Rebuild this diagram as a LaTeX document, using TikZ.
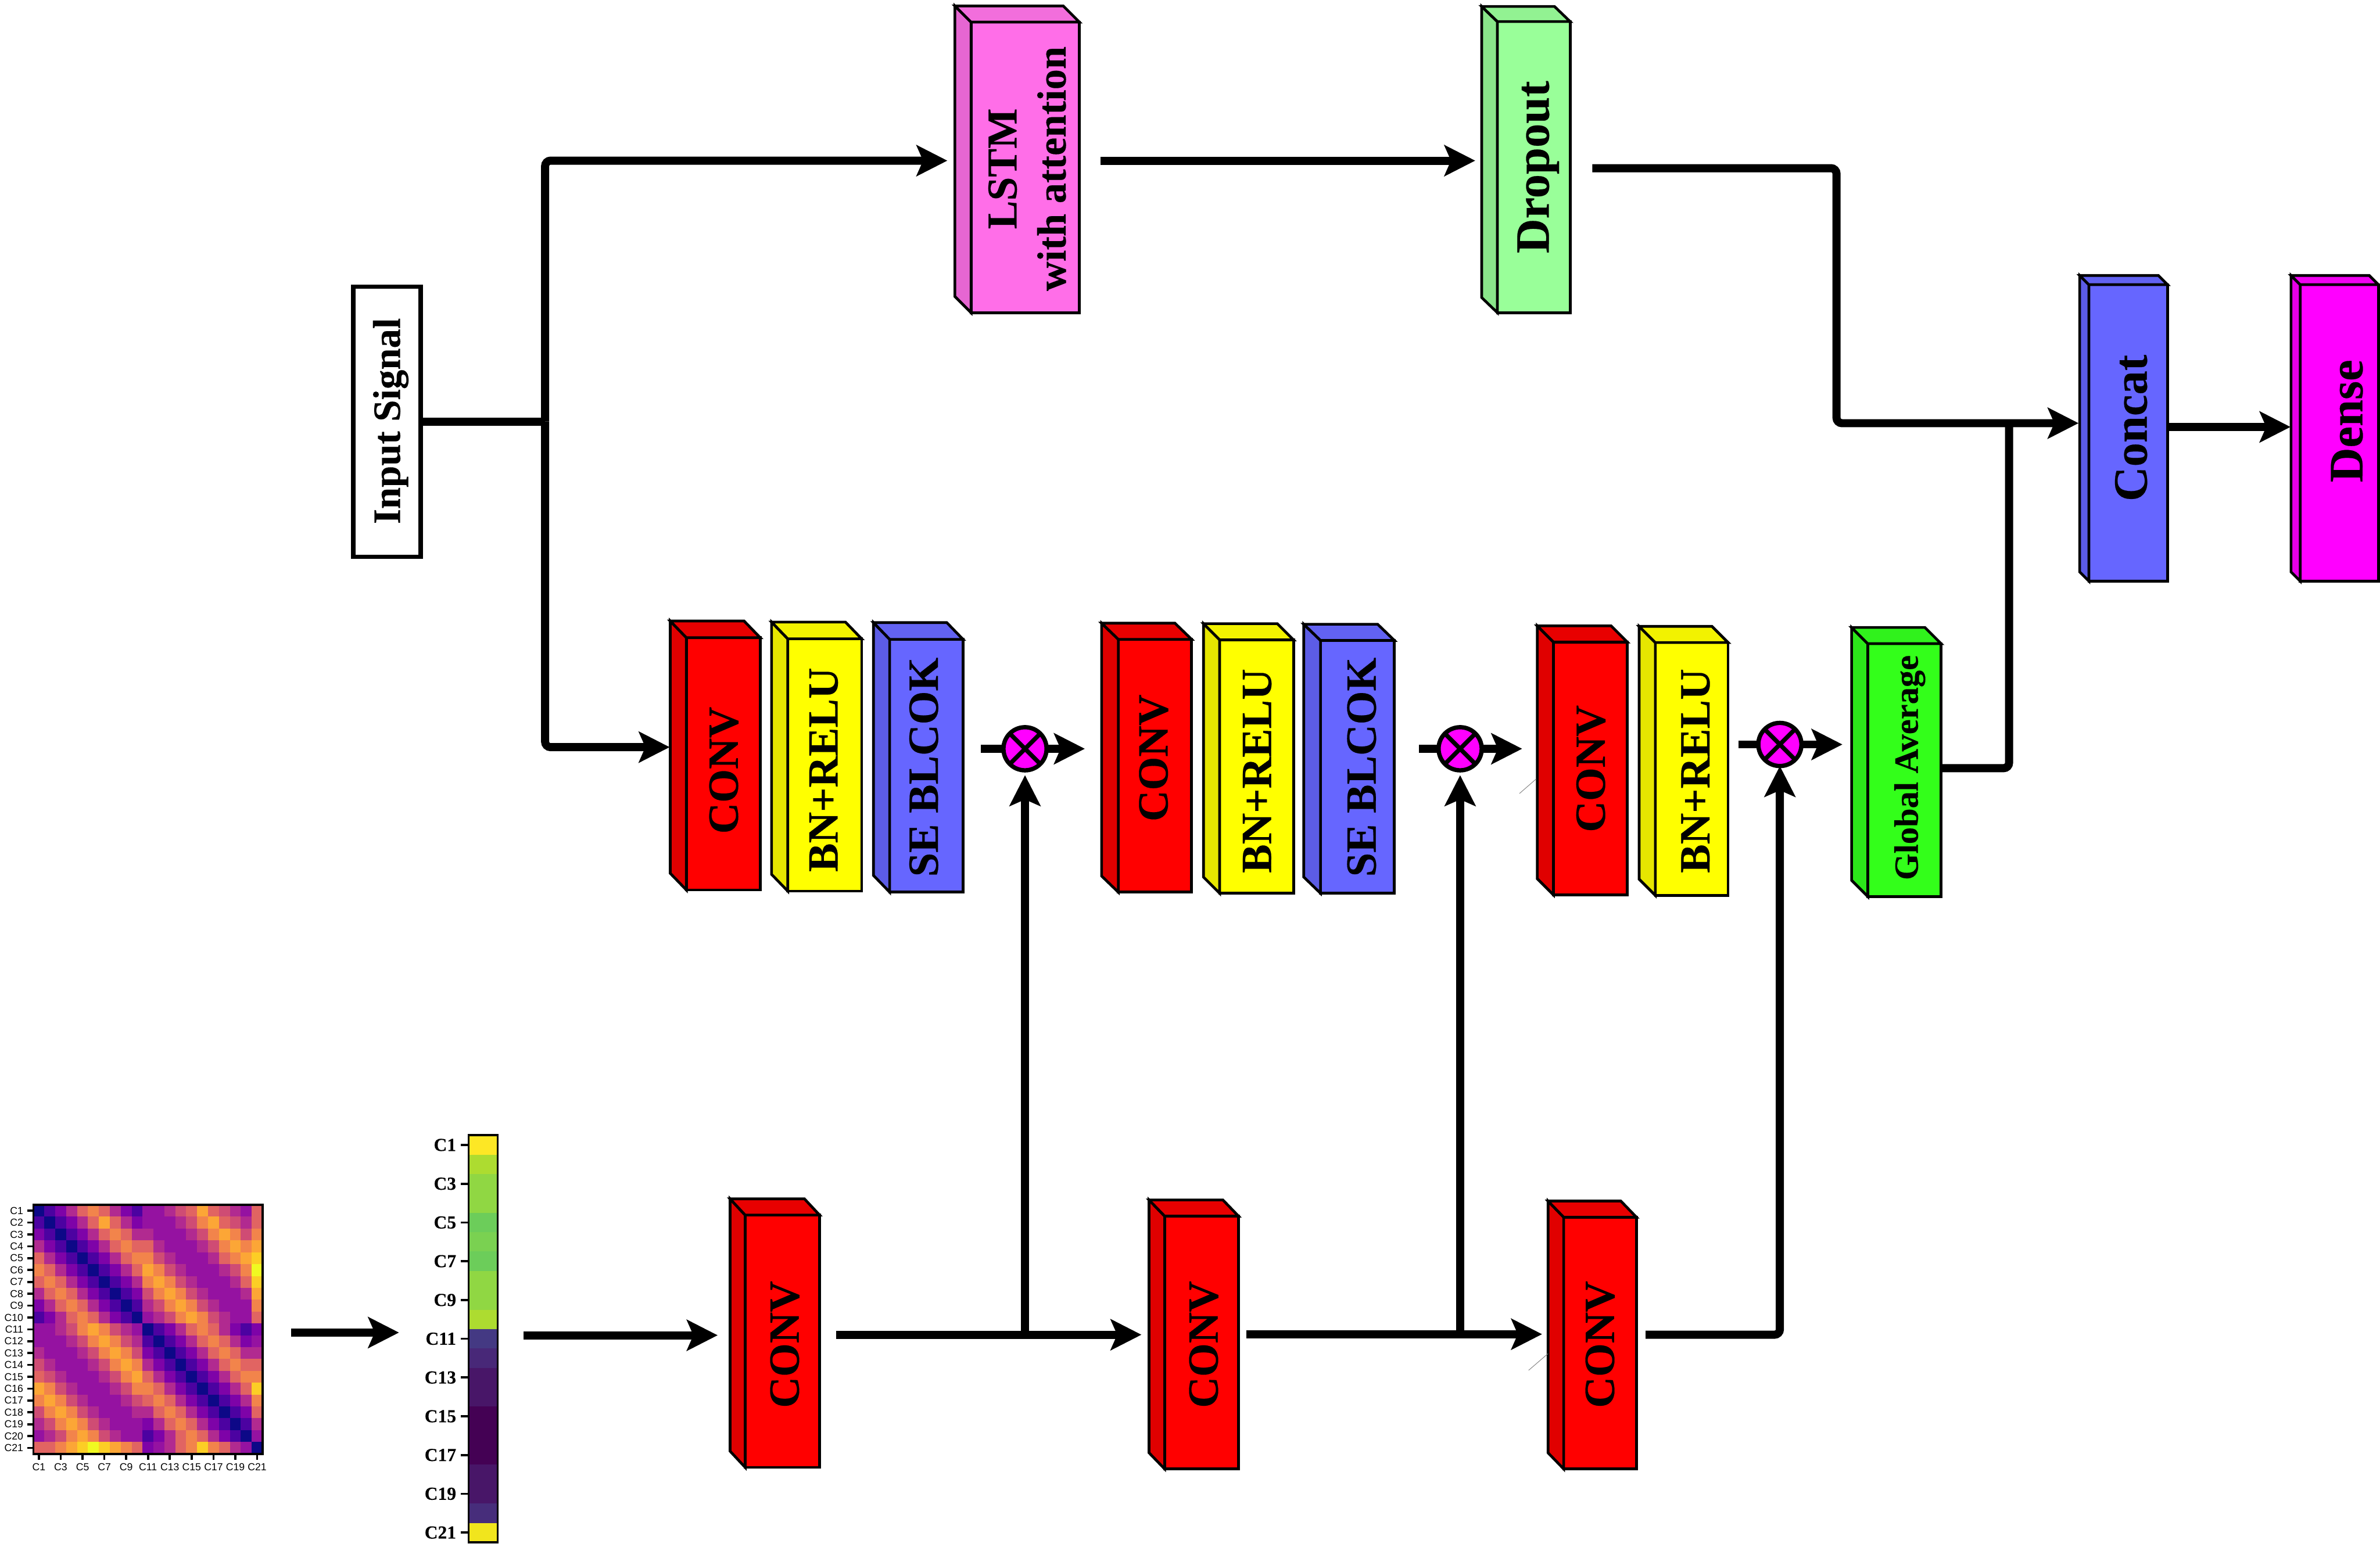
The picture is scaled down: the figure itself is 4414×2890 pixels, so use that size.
\documentclass[tikz,border=0pt]{standalone}
\usepackage{graphicx}
\usepackage{fontspec}
\setmainfont{Liberation Serif}[BoldFeatures={FakeBold=0.3}]
\newfontfamily\hsans{Liberation Sans}
\usetikzlibrary{arrows.meta,calc}
\definecolor{rd}{HTML}{FF0000}\definecolor{rdside}{HTML}{E00000}\definecolor{rdtop}{HTML}{E80000}
\definecolor{yl}{HTML}{FFFF00}\definecolor{ylside}{HTML}{E6E600}\definecolor{yltop}{HTML}{F2F200}
\definecolor{bl}{HTML}{6666FF}\definecolor{blside}{HTML}{5C5CE6}\definecolor{bltop}{HTML}{6262F2}
\definecolor{pk}{HTML}{FF6EE8}\definecolor{pkside}{HTML}{E666D2}\definecolor{pktop}{HTML}{F26EDC}
\definecolor{gn}{HTML}{99FF99}\definecolor{gnside}{HTML}{8AE68A}\definecolor{gntop}{HTML}{92F292}
\definecolor{mg}{HTML}{FF00FF}\definecolor{mgside}{HTML}{E600E6}\definecolor{mgtop}{HTML}{F200F2}
\definecolor{lm}{HTML}{33FF1A}\definecolor{lmside}{HTML}{2CE61A}\definecolor{lmtop}{HTML}{30F21C}
\definecolor{pl0}{HTML}{0D0887}\definecolor{pl1}{HTML}{4C02A1}\definecolor{pl2}{HTML}{7E03A8}
\definecolor{pl3}{HTML}{9512A1}\definecolor{pl4}{HTML}{B12A90}\definecolor{pl5}{HTML}{CF4C74}
\definecolor{pl6}{HTML}{E16462}\definecolor{pl7}{HTML}{F2844B}\definecolor{pl8}{HTML}{FCA636}
\definecolor{pl9}{HTML}{FCCE25}\definecolor{pl10}{HTML}{F0F921}
\definecolor{v0}{HTML}{FDE725}\definecolor{v1}{HTML}{ADDC30}\definecolor{v2}{HTML}{90D743}
\definecolor{v3}{HTML}{6CCD5A}\definecolor{v4}{HTML}{7AD151}\definecolor{v5}{HTML}{443983}
\definecolor{v6}{HTML}{482878}\definecolor{v7}{HTML}{481668}\definecolor{v8}{HTML}{440154}
\definecolor{v9}{HTML}{472D7B}\definecolor{v10}{HTML}{F1E51D}
\tikzset{
 boxline/.style={draw=black,line width=0.5pt,line join=miter},
 arr/.style={line width=1.5pt,rounded corners=1pt,-{Stealth[length=5.7pt,width=5.7pt,inset=1.2pt]}},
 plainline/.style={line width=1.5pt,rounded corners=1pt},
 mergenode/.style={circle,draw=black,line width=0.8pt,fill=mg,minimum size=8pt,inner sep=0pt,outer sep=0pt},
 cross/.style={line width=0.8pt},
 vlabel/.style={rotate=90,anchor=base,inner sep=0pt,outer sep=0pt,font=\bfseries},
 hmtick/.style={line width=0.4pt},
 hmlab/.style={inner sep=0pt,font=\hsans\fontsize{1.9}{2.2}\selectfont},
 striplab/.style={inner sep=0pt,anchor=east,font=\bfseries\fontsize{3.4}{3.8}\selectfont},
 stray/.style={line width=0.1pt,draw=gray}
}
% name, xb, xf, xr, yt, yf, yb, colour
\newcommand{\threed}[8]{%
 \node[boxline,fill=#8,inner sep=0pt,outer sep=0pt,minimum width={(#4-#3)*0.1pt},minimum height={(#7-#6)*0.1pt}] (#1) at ({(#3+#4)/2},{(#6+#7)/2}) {};
 \draw[boxline,fill=#8side] (#1.north west) -- ++({#2-#3},{#5-#6}) -- ++(0,{#7-#6}) -- (#1.south west) -- cycle;
 \draw[boxline,fill=#8top] (#1.north west) -- ++({#2-#3},{#5-#6}) -- ++({#4-#3},0) -- (#1.north east) -- cycle;
}
% name, xc, yc, size(pt), text
\newcommand{\vlab}[5]{\node[vlabel] (#1) at ({#2+3.3*#4},{#3}) {\fontsize{#4}{#4}\selectfont #5};}
\begin{document}
\begin{tikzpicture}[x=0.1pt,y=-0.1pt]
\useasboundingbox (0,0) rectangle (4414,2890);
% boxes
\threed{lstm}{1771}{1801}{2002}{11}{41}{580}{pk}
\threed{drop}{2748}{2777}{2912}{12}{40}{580}{gn}
\threed{concat}{3857}{3874}{4020}{511}{528}{1078}{bl}
\threed{dense}{4249}{4266}{4411}{511}{528}{1078}{mg}
\threed{conva}{1243}{1273}{1410}{1152}{1183}{1651}{rd}
\threed{bna}{1431}{1461}{1598}{1154}{1185}{1653}{yl}
\threed{sea}{1620}{1650}{1786}{1155}{1186}{1655}{bl}
\threed{convb}{2043}{2074}{2210}{1156}{1186}{1655}{rd}
\threed{bnb}{2232}{2262}{2399}{1157}{1187}{1657}{yl}
\threed{seb}{2418}{2449}{2586}{1158}{1188}{1657}{bl}
\threed{convc}{2851}{2881}{3018}{1161}{1191}{1660}{rd}
\threed{bnc}{3040}{3070}{3205}{1162}{1192}{1661}{yl}
\threed{glob}{3434}{3464}{3600}{1164}{1194}{1663}{lm}
\threed{convd}{1354}{1382}{1520}{2224}{2254}{2722}{rd}
\threed{conve}{2131}{2160}{2297}{2226}{2256}{2725}{rd}
\threed{convf}{2871}{2900}{3035}{2228}{2258}{2725}{rd}
% input
\node[boxline,fill=white,line width=0.8pt,inner sep=0pt,outer sep=0pt,minimum width=12.5pt,minimum height=50.1pt] (input) at (717.5,782.5) {};
% labels
\vlab{tinput}{718}{781}{7.2}{Input Signal}
\node[rotate=90,anchor=center,inner sep=0pt,align=center,font=\bfseries\fontsize{7.9}{9.1}\selectfont] (tlstm) at (1905,313) {LSTM\\[0pt]{\fontsize{7.6}{9.1}\selectfont with attention}};
\vlab{tdrop}{2843}{310}{8.9}{Dropout}
\vlab{tconcat}{3952}{794}{8.9}{Concat}
\vlab{tdense}{4352}{781}{8.9}{Dense}
\vlab{tca}{1342}{1429}{8}{CONV}
\vlab{tba}{1527}{1428}{8}{BN+RELU}
\vlab{tsa}{1713}{1423}{8}{SE BLCOK}
\vlab{tcb}{2139}{1406}{8}{CONV}
\vlab{tbb}{2331}{1430}{8}{BN+RELU}
\vlab{tsb}{2525}{1423}{8}{SE BLCOK}
\vlab{tcc}{2950}{1426}{8}{CONV}
\vlab{tbc}{3144}{1430}{8}{BN+RELU}
\vlab{tgl}{3536}{1424}{6.3}{Global Average}
\vlab{tcd}{1455}{2494}{8}{CONV}
\vlab{tce}{2232}{2494}{8}{CONV}
\vlab{tcf}{2967}{2494}{8}{CONV}
% merge nodes
\node[mergenode] (ma) at (1901,1389) {};
\node[mergenode] (mb) at (2708,1389) {};
\node[mergenode] (mc) at (3301,1381) {};
\foreach \m in {ma,mb,mc}{
 \draw[cross] (\m.north west) -- (\m.south east);
 \draw[cross] (\m.north east) -- (\m.south west);
}
% heatmap
\foreach \row [count=\r from 0] in {
{0,1,2,4,6,7,6,4,2,1,3,3,4,5,6,8,6,5,4,3,6},
{1,0,1,2,4,6,8,6,4,2,3,3,3,4,5,7,8,6,5,4,6},
{2,1,0,1,2,4,6,7,6,4,4,3,3,3,4,5,7,8,7,5,7},
{4,2,1,0,1,2,4,6,7,6,6,4,3,3,3,4,5,7,8,7,8},
{6,4,2,1,0,1,2,4,6,7,7,5,4,3,3,3,4,6,7,8,9},
{7,6,4,2,1,0,1,2,4,6,8,7,5,4,3,3,3,4,5,7,10},
{6,7,6,4,2,1,0,1,2,4,7,8,7,5,4,3,3,3,4,6,9},
{4,6,7,6,4,2,1,0,1,2,5,7,8,7,5,4,3,3,3,4,8},
{2,4,6,7,6,4,2,1,0,1,4,5,7,8,7,5,4,3,3,3,7},
{1,2,4,6,7,6,4,2,1,0,3,4,5,7,8,7,5,4,3,3,6},
{3,3,4,5,7,8,7,5,4,3,0,1,2,4,6,7,6,4,2,1,2},
{3,3,3,4,5,7,8,7,5,4,1,0,1,2,4,6,7,6,4,2,3},
{4,3,3,3,4,5,7,8,7,5,2,1,0,1,2,4,6,7,6,4,4},
{5,4,3,3,3,4,5,7,8,7,4,2,1,0,1,2,4,6,7,6,6},
{6,5,4,3,3,3,4,5,7,8,6,4,2,1,0,1,2,4,6,7,7},
{8,7,5,4,3,3,3,4,5,7,7,6,4,2,1,0,1,2,4,6,9},
{7,8,7,5,4,3,3,3,4,5,6,7,6,4,2,1,0,1,2,4,7},
{5,7,8,7,5,4,3,3,3,4,4,6,7,6,4,2,1,0,1,2,6},
{4,5,7,8,7,5,4,3,3,3,2,4,6,7,6,4,2,1,0,1,4},
{3,4,5,7,8,7,5,4,3,3,1,2,4,6,7,6,4,2,1,0,3},
{6,6,7,8,9,10,9,8,7,6,2,3,4,6,7,9,7,6,4,3,0}}{
 \foreach \v [count=\c from 0] in \row {
  \fill[pl\v] ({62+\c*20.24},{2235+\r*22}) rectangle ++(20.8,22.6);
 }
}
\draw[line width=0.4pt] (62,2235) rectangle (487,2697);
\foreach \i [evaluate=\i as \yy using {2235+(\i-0.5)*22}] in {1,...,21}{
 \draw[hmtick] (51,\yy) -- (62,\yy);
 \node[hmlab,anchor=east] (hy\i) at (45,\yy) {C\i};
}
\foreach \i [evaluate=\i as \xx using {62+(\i-0.5)*20.24}] in {1,3,...,21}{
 \draw[hmtick] (\xx,2697) -- (\xx,2708);
 \node[hmlab] (hx\i) at (\xx,2721) {C\i};
}
% strip
\foreach \cc [count=\r from 0] in {0,1,2,2,3,4,3,2,2,1,5,6,7,7,8,8,8,7,7,9,10}{
 \fill[v\cc] (869,{2106+\r*35.95}) rectangle (923,{2106+(\r+1)*35.95+0.4});
}
\draw[line width=0.4pt] (869,2106) rectangle (923,2861);
\foreach \i [evaluate=\i as \yy using {2106+(\i-0.5)*35.95}] in {1,3,...,21}{
 \draw[line width=0.4pt] (855,\yy) -- (867,\yy);
 \node[striplab] (sy\i) at (848,\yy) {C\i};
}
% junctions and free ends
\coordinate (j0) at (1011,782);
\coordinate (c01) at (1011,298);
\coordinate (t01) at (1757,298);
\coordinate (c02) at (1011,1386);
\coordinate (t02) at (1242,1386);
\coordinate (s1) at (2041,298);
\coordinate (t1) at (2736,298);
\coordinate (s2) at (2953,312);
\coordinate (c21) at (3406,312);
\coordinate (c22) at (3406,785);
\coordinate (t2) at (3855,785);
\coordinate (c31) at (3726,1425);
\coordinate (j3) at (3726,785);
\coordinate (t4) at (4248,792);
\coordinate (sa) at (1819,1389);
\coordinate (ta) at (2012,1389);
\coordinate (sb) at (2632,1389);
\coordinate (tb) at (2823,1389);
\coordinate (sc) at (3224,1381);
\coordinate (tc) at (3417,1381);
\coordinate (h1) at (540,2472);
\coordinate (h2) at (740,2472);
\coordinate (h3) at (971,2477);
\coordinate (h4) at (1331,2477);
\coordinate (r1) at (1551,2476);
\coordinate (jr1) at (1901,2476);
\coordinate (r2) at (2117,2476);
\coordinate (r3) at (2311,2475);
\coordinate (jr2) at (2708,2475);
\coordinate (r4) at (2860,2475);
\coordinate (r5) at (3052,2476);
\coordinate (cr) at (3301,2476);
\coordinate (g1a) at (2818,1472);
\coordinate (g1b) at (2849,1445);
\coordinate (g2a) at (2835,2542);
\coordinate (g2b) at (2871,2511);
% connectors
\draw[plainline,line cap=butt] (input.east |- j0) -- (j0);
\draw[arr] (j0) -- (c01) -- (t01);
\draw[arr] (j0) -- (c02) -- (t02);
\draw[arr] (s1) -- (t1);
\draw[arr] (s2) -- (c21) -- (c22) -- (t2);
\draw[plainline] (glob.east |- c31) -- (c31) -- (j3);
\draw[arr] (concat.east |- t4) -- (t4);
\draw[plainline] (sa) -- (ma.west);
\draw[arr] (ma.east) -- (ta);
\draw[plainline] (sb) -- (mb.west);
\draw[arr] (mb.east) -- (tb);
\draw[plainline] (sc) -- (mc.west);
\draw[arr] (mc.east) -- (tc);
\draw[arr] (h1) -- (h2);
\draw[arr] (h3) -- (h4);
\draw[arr] (r1) -- (r2);
\draw[arr] (r3) -- (r4);
\draw[arr,shorten >=0.9pt] (jr1) -- (ma.south);
\draw[arr,shorten >=0.9pt] (jr2) -- (mb.south);
\draw[arr] (r5) -- (cr) -- (mc.south);
\draw[stray] (g1a) -- (g1b);
\draw[stray] (g2a) -- (g2b);
\end{tikzpicture}
\end{document}
